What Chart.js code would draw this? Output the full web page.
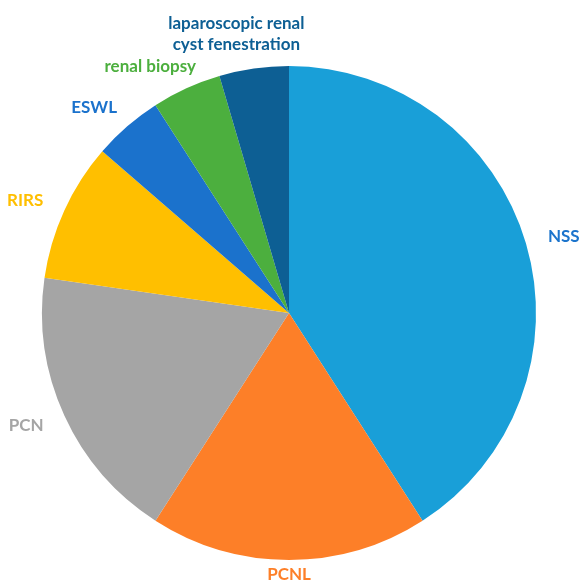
<!DOCTYPE html>
<html>
<head>
<meta charset="utf-8">
<script src="https://cdn.jsdelivr.net/npm/chart.js@4/dist/chart.umd.min.js"></script>
<style>
    html, body { margin: 0; padding: 0; background: #fff; }
    #wrap { width: 584px; height: 587px; position: relative; }
</style>
</head>
<body>
<div id="wrap"><canvas id="pieChart"></canvas></div>
<script>
// 데이터
const categories = ['NSS', 'PCNL', 'PCN', 'RIRS', 'ESWL', 'renal biopsy', ['laparoscopic renal', 'cyst fenestration']];
const counts = [9, 4, 4, 2, 1, 1, 1];
const sliceColors = ['#199fd8', '#fd7f28', '#a5a5a5', '#ffbf00', '#1b72cc', '#4caf3e', '#0d5f94'];
const labelColors = ['#1c74cc', '#fd7f28', '#a5a5a5', '#ffbf00', '#1b72cc', '#4caf3e', '#0d5f94'];

// 바깥쪽 라벨 그리기
const outsideLabels = {
    id: 'outsideLabels',
    afterDatasetsDraw(chart) {
        const ctx = chart.ctx;
        const meta = chart.getDatasetMeta(0);
        const fontSize = 17;
        const lineH = 21;
        ctx.save();
        ctx.font = 'bold ' + fontSize + 'px Lato';
        ctx.textAlign = 'center';
        ctx.textBaseline = 'middle';
        meta.data.forEach((arc, i) => {
            const mid = (arc.startAngle + arc.endAngle) / 2;
            const cos = Math.cos(mid), sin = Math.sin(mid);
            const lines = Array.isArray(categories[i]) ? categories[i] : [categories[i]];
            const w = Math.max(...lines.map(l => ctx.measureText(l).width));
            const h = lines.length * lineH;
            const r = arc.outerRadius + 14;
            let x = arc.x + cos * r + cos * w * 0.8;
            let y = arc.y + sin * r + sin * h * 0.5;
            // 캔버스 안에 맞추기
            x = Math.min(Math.max(x, w / 2 + 2), chart.width - w / 2 - 2);
            y = Math.min(Math.max(y, h / 2 + 2), chart.height - h / 2 - 2);
            ctx.fillStyle = labelColors[i];
            lines.forEach((l, k) => {
                ctx.fillText(l, x, y - h / 2 + lineH / 2 + k * lineH);
            });
        });
        ctx.restore();
    }
};

new Chart(document.getElementById('pieChart'), {
    type: 'pie',
    data: {
        labels: categories,
        datasets: [{
            data: counts,
            backgroundColor: sliceColors,
            borderWidth: 0,
            hoverOffset: 0
        }]
    },
    options: {
        responsive: true,
        maintainAspectRatio: false,
        animation: false,
        layout: {
            padding: { left: 42, right: 48, top: 66, bottom: 27 }
        },
        plugins: {
            legend: { display: false },
            tooltip: { enabled: false }
        }
    },
    plugins: [outsideLabels]
});
</script>
</body>
</html>
